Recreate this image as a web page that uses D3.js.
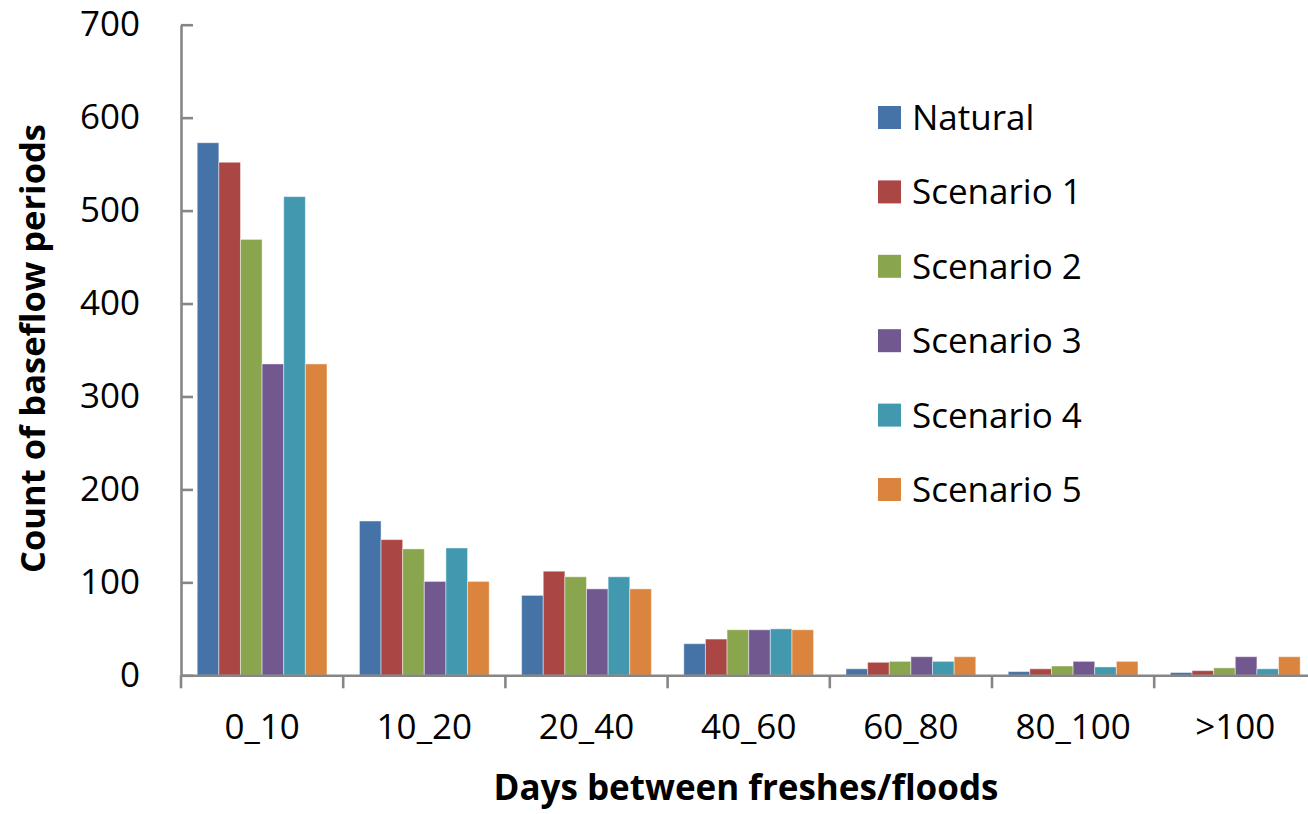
<!DOCTYPE html>
<html>
<head>
<meta charset="utf-8">
<script src="https://cdn.jsdelivr.net/npm/d3@7/dist/d3.min.js"></script>
<style>
  html, body { margin: 0; padding: 0; background: #fff; }
  svg { display: block; }
  text { font-family: "Open Sans", sans-serif; fill: #000; }
</style>
</head>
<body>
<svg id="chart" width="1308" height="814"></svg>
<script>
// Duration classes (days between freshes/floods)
const categories = ["0_10", "10_20", "20_40", "40_60", "60_80", "80_100", ">100"];

// Series names and counts of baseflow periods per class
const seriesNames = ["Natural", "Scenario 1", "Scenario 2", "Scenario 3", "Scenario 4", "Scenario 5"];
const natural   = [573, 166,  86, 34,  7,  4,  3];
const scenario1 = [552, 146, 112, 39, 14,  7,  5];
const scenario2 = [469, 136, 106, 49, 15, 10,  8];
const scenario3 = [335, 101,  93, 49, 20, 15, 20];
const scenario4 = [515, 137, 106, 50, 15,  9,  7];
const scenario5 = [335, 101,  93, 49, 20, 15, 20];
const seriesValues = [natural, scenario1, scenario2, scenario3, scenario4, scenario5];

const yTicks = [0, 100, 200, 300, 400, 500, 600, 700];
const colors = ["#4572A7", "#AA4643", "#89A54E", "#71588F", "#4198AF", "#DB843D"];

const svg = d3.select("#chart");
const axisColor = "#868686";

const plotLeft = 181, plotRight = 1316.4;
const yBottom = 675.3, yTop = 24.7;

const x0 = d3.scaleBand().domain(categories).range([plotLeft, plotRight]).paddingInner(0).paddingOuter(0);
// Bars take 6 slots in the middle of each category, with gaps of 1.5 bar widths between groups
const x1 = d3.scaleBand().domain(seriesNames)
  .range([x0.bandwidth() * 0.1, x0.bandwidth() * 0.9]).padding(0);
const y = d3.scaleLinear().domain([0, 700]).range([yBottom, yTop]);
const color = d3.scaleOrdinal().domain(seriesNames).range(colors);

// Bars
const groups = svg.append("g").selectAll("g")
  .data(categories)
  .join("g")
  .attr("transform", d => `translate(${x0(d)},0)`);

groups.selectAll("rect")
  .data((c, ci) => seriesNames.map((s, si) => ({ series: s, value: seriesValues[si][ci] })))
  .join("rect")
  .attr("x", d => x1(d.series))
  .attr("y", d => y(d.value))
  .attr("width", x1.bandwidth())
  .attr("height", d => yBottom - y(d.value))
  .attr("fill", d => color(d.series))
  .attr("stroke", "#ffffff")
  .attr("stroke-opacity", 0.45)
  .attr("stroke-width", 1);

// Y axis: ticks point into the plot, labels on the left
const yAxis = svg.append("g")
  .attr("transform", `translate(${plotLeft},0)`)
  .call(d3.axisLeft(y).tickValues(yTicks).tickSizeInner(-12).tickSizeOuter(0).tickPadding(41));
yAxis.select(".domain").attr("stroke", axisColor).attr("stroke-width", 2.6);
yAxis.selectAll(".tick line").attr("stroke", axisColor).attr("stroke-width", 2.6);
yAxis.selectAll(".tick text")
  .attr("font-family", "Open Sans, sans-serif")
  .attr("font-size", 35)
  .attr("fill", "#000");

// X axis: labels centred in each class, tick marks on the class boundaries
const xAxis = svg.append("g")
  .attr("transform", `translate(0,${yBottom})`)
  .call(d3.axisBottom(x0).tickSize(0).tickPadding(39));
xAxis.select(".domain").attr("stroke", axisColor).attr("stroke-width", 2.6);
xAxis.selectAll(".tick text")
  .attr("font-family", "Open Sans, sans-serif")
  .attr("font-size", 35)
  .attr("fill", "#000");

const boundaries = categories.map(c => x0(c)).concat([x0(categories[categories.length - 1]) + x0.bandwidth()]);
xAxis.selectAll("line.boundary")
  .data(boundaries)
  .join("line")
  .attr("class", "boundary")
  .attr("x1", d => d).attr("x2", d => d)
  .attr("y1", 0).attr("y2", 13)
  .attr("stroke", axisColor)
  .attr("stroke-width", 2.6);

// Axis titles
svg.append("text")
  .attr("x", 746)
  .attr("y", 800)
  .attr("text-anchor", "middle")
  .attr("font-weight", "bold")
  .attr("font-size", 35)
  .text("Days between freshes/floods");

svg.append("text")
  .attr("transform", "translate(45,348.5) rotate(-90)")
  .attr("text-anchor", "middle")
  .attr("font-weight", "bold")
  .attr("font-size", 34.5)
  .text("Count of baseflow periods");

// Legend
const legend = svg.append("g").attr("transform", "translate(878,106)");
const items = legend.selectAll("g")
  .data(seriesNames)
  .join("g")
  .attr("transform", (d, i) => `translate(0,${i * 74.4})`);
items.append("rect")
  .attr("width", 23).attr("height", 23)
  .attr("fill", d => color(d));
items.append("text")
  .attr("x", 34)
  .attr("y", 24)
  .attr("font-size", 35)
  .text(d => d);
</script>
</body>
</html>
